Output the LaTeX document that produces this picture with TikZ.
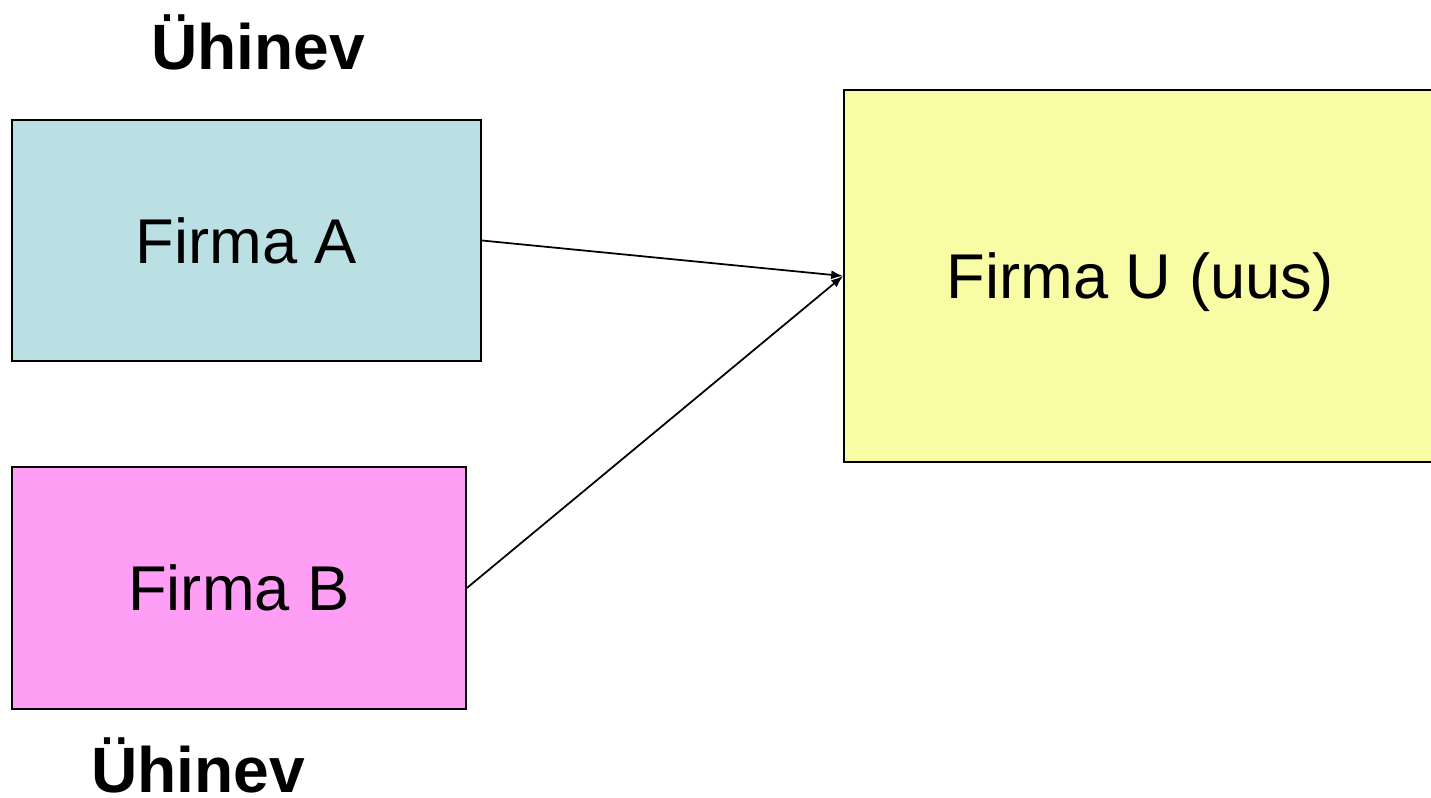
\documentclass[tikz,border=0pt]{standalone}
\usepackage{fontspec}
\setmainfont{Liberation Sans}
\usetikzlibrary{arrows.meta}
\definecolor{firmaAcolor}{RGB}{187,224,227}
\definecolor{firmaBcolor}{RGB}{255,158,245}
\definecolor{firmaUcolor}{RGB}{248,252,164}
\begin{document}
\begin{tikzpicture}[firma/.style = {draw=black,line width=1pt,inner sep=0pt,text depth=0pt,font=\fontsize{36}{43}\selectfont},
		yhinev/.style = {anchor = base,font=\fontsize{36.5}{44}\selectfont\bfseries}]
		\useasboundingbox (0,0) rectangle (28.62,15.96);
		\node[firma,fill=firmaAcolor,minimum width=9.38cm,minimum height=4.82cm] (firmaA) at (4.93,11.15) {Firma A};
		\node[firma,fill=firmaBcolor,minimum width=9.08cm,minimum height=4.84cm] (firmaB) at (4.78,4.2) {Firma B};
		\node[firma,fill=firmaUcolor,minimum width=11.84cm,minimum height=7.44cm] (firmaU) at (22.8,10.44) {Firma U (uus)};
		\node[yhinev] (yhinevA) at (5.16,14.56) {Ühinev};
		\node[yhinev] (yhinevB) at (3.96,0.1) {Ühinev};
		\draw[black,line width=1pt,-{Latex[length=2.4mm,width=1.8mm]}] (firmaA.east) -- (firmaU.west);
		\draw[black,line width=1pt,-{Latex[length=2.4mm,width=1.8mm]}] (firmaB.east) -- (firmaU.west);
	\end{tikzpicture}
\end{document}
